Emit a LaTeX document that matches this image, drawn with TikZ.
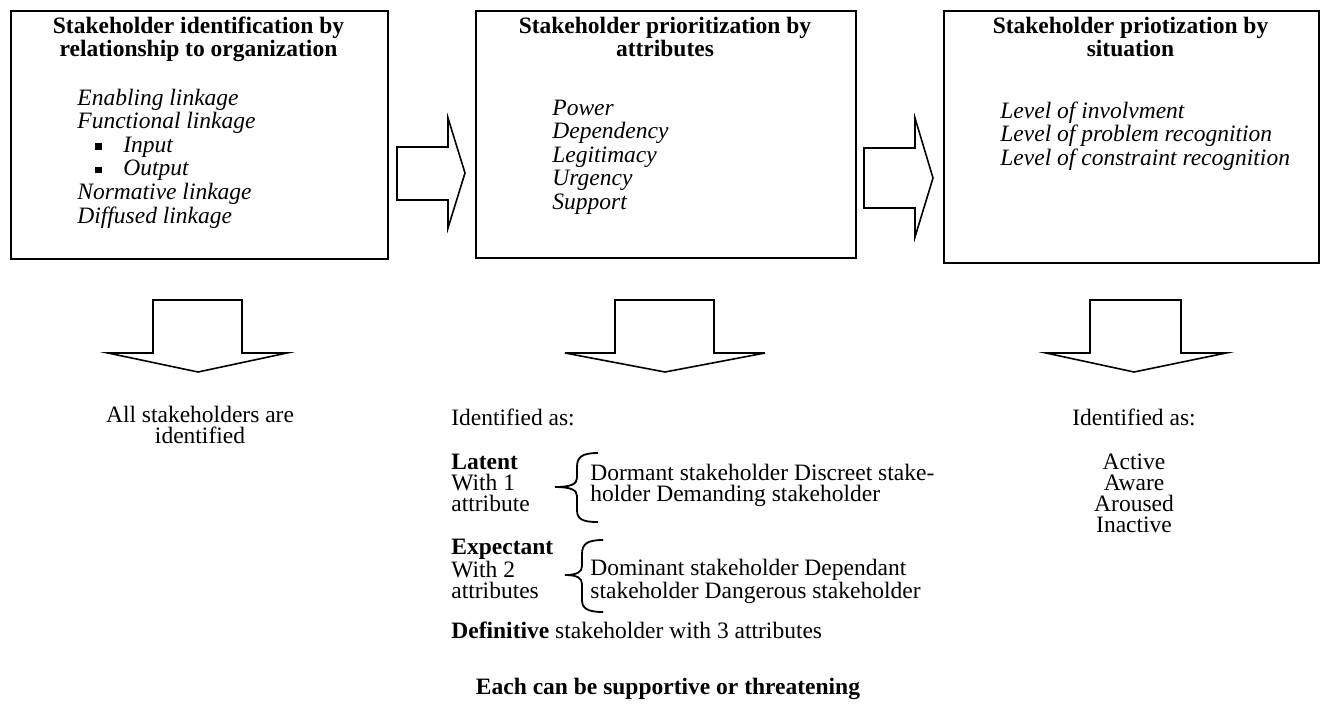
\documentclass[tikz,border=0pt]{standalone}
\usepackage{fontspec}
\setmainfont{Liberation Serif}
\newcommand\fsA{\fontsize{11.75}{11.8}\selectfont}
\newcommand\fsB{\fontsize{11.75}{10.5}\selectfont}
\newcommand\LLines[1]{\vtop{\halign{##\hfil\cr#1\crcr}}}
\newcommand\CLines[1]{\vtop{\halign{\hfil##\hfil\cr#1\crcr}}}
\newcommand\sqbul{\hspace*{9pt}\rule[1.2pt]{3.4pt}{3.4pt}\hspace*{10.6pt}}
\tikzset{
  box/.style={draw, line width=1pt, inner sep=0pt, anchor=north west},
  blockarrow/.style={draw, line width=0.8pt, line join=miter, fill=white},
  brace/.style={draw, line width=0.9pt},
  ttl/.style={inner sep=0pt, anchor=base, font=\fsA\bfseries},
  itl/.style={inner sep=0pt, anchor=base west, font=\fsA\itshape},
  btxt/.style={inner sep=0pt, anchor=base west, font=\fsB},
  ctxt/.style={inner sep=0pt, anchor=base, font=\fsB},
}
\begin{document}
\begin{tikzpicture}[x=0.5pt,y=-0.5pt]
\useasboundingbox (0,0) rectangle (1321,713);
% boxes
\node[box, minimum width=188.5pt, minimum height=124pt] (b1) at (10,10) {};
\node[box, minimum width=190pt, minimum height=123.5pt] (b2) at (475,10) {};
\node[box, minimum width=187.5pt, minimum height=126pt] (b3) at (943,10) {};
% box texts
\node[ttl] (t1) at (198.5,33) {\CLines{Stakeholder identification by\cr relationship to organization}};
\node[itl] (l1) at (77,105) {\LLines{Enabling linkage\cr Functional linkage\cr \sqbul Input\cr \sqbul Output\cr Normative linkage\cr Diffused linkage}};
\node[ttl] (t2) at (665,33) {\CLines{Stakeholder prioritization by\cr attributes}};
\node[itl] (l2) at (552,115) {\LLines{Power\cr Dependency\cr Legitimacy\cr Urgency\cr Support}};
\node[ttl] (t3) at (1130.5,33) {\CLines{Stakeholder priotization by\cr situation}};
\node[itl] (l3) at (1000,118) {\LLines{Level of involvment\cr Level of problem recognition\cr Level of constraint recognition}};
% right block arrows
\draw[blockarrow] (397,147) -- (448,147) -- (448,118) -- (465,173) -- (448,228) -- (448,200) -- (397,200) -- cycle;
\draw[blockarrow] (864,148) -- (915,148) -- (915,118) -- (933,178) -- (915,237) -- (915,208) -- (864,208) -- cycle;
% down block arrows
\draw[blockarrow] (153,300) -- (242,300) -- (242,353) -- (287,353) -- (198,372) -- (108,353) -- (153,353) -- cycle;
\draw[blockarrow] (615,300) -- (714,300) -- (714,353) -- (765,353) -- (665,372) -- (565,353) -- (615,353) -- cycle;
\draw[blockarrow] (1090,300) -- (1181,300) -- (1181,353) -- (1226,353) -- (1134,372) -- (1046,353) -- (1090,353) -- cycle;
% bottom left
\node[ctxt] (r1) at (200,422) {\CLines{All stakeholders are\cr identified}};
% bottom middle
\node[btxt] (r2) at (451,425) {Identified as:};
\node[btxt] (lat) at (451,469) {\LLines{\textbf{Latent}\cr With 1\cr attribute}};
\node[btxt] (latd) at (590,480) {\LLines{Dormant stakeholder Discreet stake-\cr holder Demanding stakeholder}};
\node[btxt] (exp) at (451,554) {\LLines{\textbf{Expectant}\cr With 2\cr attributes}};
\node[btxt] (expd) at (590,575) {\LLines{Dominant stakeholder Dependant\cr stakeholder Dangerous stakeholder}};
\node[btxt] (def) at (451,638) {\textbf{Definitive} stakeholder with 3 attributes};
\node[ctxt, font=\fsB\bfseries] (each) at (668,694) {Each can be supportive or threatening};
% braces
\draw[brace] (598,453) .. controls (582,453) and (577,457) .. (577,467) -- (577,478) .. controls (577,484) and (571,487) .. (555,487) .. controls (571,487) and (577,490) .. (577,496) -- (577,510) .. controls (577,519) and (582,522) .. (598,522);
\draw[brace] (603,540) .. controls (587,540) and (582,544) .. (582,554) -- (582,566) .. controls (582,572) and (577,575) .. (565,575) .. controls (577,575) and (582,578) .. (582,584) -- (582,600) .. controls (582,608) and (587,612) .. (603,612);
% bottom right
\node[ctxt] (r3) at (1134,425) {Identified as:};
\node[ctxt] (act) at (1134,469) {\CLines{Active\cr Aware\cr Aroused\cr Inactive}};
\end{tikzpicture}
\end{document}
